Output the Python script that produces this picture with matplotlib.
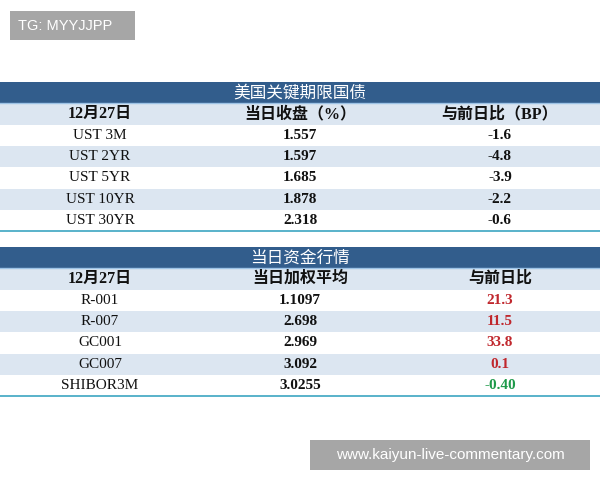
import matplotlib
matplotlib.use("Agg")
import matplotlib.pyplot as plt
from matplotlib.patches import Rectangle

# ---- data ----
ust_title = "美国关键期限国债"
ust_header = ["12月27日", "当日收盘（%）", "与前日比（BP）"]
ust_names = ["UST 3M", "UST 2YR", "UST 5YR", "UST 10YR", "UST 30YR"]
ust_close = ["1.557", "1.597", "1.685", "1.878", "2.318"]
ust_change = ["-1.6", "-4.8", "-3.9", "-2.2", "-0.6"]

fund_title = "当日资金行情"
fund_header = ["12月27日", "当日加权平均", "与前日比"]
fund_names = ["R-001", "R-007", "GC001", "GC007", "SHIBOR3M"]
fund_avg = ["1.1097", "2.698", "2.969", "3.092", "3.0255"]
fund_change = ["21.3", "11.5", "33.8", "0.1", "-0.40"]

DARK = "#325D8C"
LIGHT = "#DCE6F1"
LINE = "#4BACC6"
RED, GREEN = "#C0272D", "#1E9A4A"
FAM = ["Liberation Serif", "Noto Sans CJK SC"]
COLS = [100, 300, 500]
ROW_H = 21.3

fig = plt.figure(figsize=(6, 4.8), dpi=100)
ax = fig.add_axes([0, 0, 1, 1])
ax.set_xlim(0, 600)
ax.set_ylim(480, 0)
ax.axis("off")


def draw_table(top, title, header, names, vals, changes, colored):
    ax.add_patch(Rectangle((0, top), 600, ROW_H, color=DARK, lw=0))
    ax.text(300, top + ROW_H / 2 + 0.5, title, ha="center", va="center", color="white",
            fontsize=12, family=["Noto Sans CJK SC"], fontweight="medium")
    y = top + ROW_H
    ax.plot([0, 600], [y, y], color="#9DC3E6", lw=1)
    ax.add_patch(Rectangle((0, y), 600, ROW_H, color=LIGHT, lw=0))
    for x, h in zip(COLS, header):
        ax.text(x, y + ROW_H / 2, h, ha="center", va="center", fontsize=11.5,
                family=FAM, fontweight="bold", color="#111111")
    for i, (n, v, c) in enumerate(zip(names, vals, changes)):
        yy = y + ROW_H * (i + 1)
        if i % 2 == 1:
            ax.add_patch(Rectangle((0, yy), 600, ROW_H, color=LIGHT, lw=0))
        ax.text(COLS[0], yy + ROW_H / 2, n, ha="center", va="center", fontsize=11,
                family=FAM, color="#111111")
        ax.text(COLS[1], yy + ROW_H / 2, v, ha="center", va="center", fontsize=11,
                family=FAM, fontweight="bold", color="#111111")
        col = "#111111"
        if colored:
            col = GREEN if c.startswith("-") else RED
        ax.text(COLS[2], yy + ROW_H / 2, c, ha="center", va="center", fontsize=11,
                family=FAM, fontweight="bold", color=col)
    yb = y + ROW_H * (len(names) + 1)
    ax.plot([0, 600], [yb, yb], color=LINE, lw=1.3)


draw_table(82, ust_title, ust_header, ust_names, ust_close, ust_change, False)
draw_table(247, fund_title, fund_header, fund_names, fund_avg, fund_change, True)

# watermarks
ax.add_patch(Rectangle((10, 11), 125, 29, color="#A6A6A6", lw=0))
ax.text(18, 25.5, "TG: MYYJJPP", ha="left", va="center", color="white", fontsize=10.5,
        family=["Liberation Sans"])
ax.add_patch(Rectangle((310, 440), 280, 30, color="#A6A6A6", lw=0))
ax.text(450, 455, "www.kaiyun-live-commentary.com", ha="center", va="center", color="white",
        fontsize=11, family=["Liberation Sans"])

fig.savefig("out.png", dpi=100, facecolor="white")
